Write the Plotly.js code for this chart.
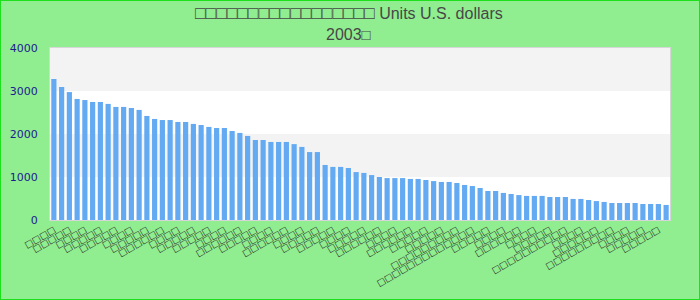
<!DOCTYPE html>
<html>
<head>
<meta charset="utf-8">
<script src="https://cdn.plot.ly/plotly-3.0.1.min.js"></script>
<style>
  html, body { margin: 0; padding: 0; background: #90ee90; }
  #wrap { width: 698px; height: 298px; border: 1px solid #1de01d; }
  #chart { width: 698px; height: 298px; }
</style>
</head>
<body>
<div id="wrap"><div id="chart"></div></div>
<script>
// Category labels: the reference shows only missing-glyph boxes, reproduced here as □
const labelLengths = [4, 3, 5, 5, 4, 6, 5, 4, 5, 6, 4, 8, 5, 4, 6, 5, 4, 6, 5, 12, 5, 16, 4,
  5, 6, 4, 5, 6, 4, 5, 6, 5, 4, 6, 5, 4, 5, 6, 4, 5, 5, 4, 6, 5, 4, 5, 6, 4, 5, 6,
  5, 4, 9, 5, 13, 4, 5, 6, 4, 5, 6, 5, 4, 8, 5, 4, 10, 5, 4, 5, 6, 4, 9, 5, 4, 6, 5, 4, 5, 3];
const categories = labelLengths.map((n, i) => '□'.repeat(n) + '\u200b'.repeat(i));

const values = [3280, 3095, 2975, 2815, 2790, 2745, 2745, 2700, 2630, 2630,
  2605, 2560, 2420, 2350, 2325, 2325, 2280, 2280, 2235, 2210,
  2165, 2140, 2140, 2070, 2025, 1955, 1860, 1860, 1815, 1815,
  1815, 1765, 1700, 1580, 1580, 1280, 1235, 1235, 1210, 1115,
  1095, 1045, 1000, 975, 975, 975, 955, 955, 930, 905,
  885, 885, 860, 815, 790, 745, 675, 675, 630, 605,
  580, 560, 560, 560, 535, 535, 535, 490, 490, 465,
  440, 420, 395, 395, 395, 395, 372, 372, 372, 350];

const yTicks = [0, 1000, 2000, 3000, 4000];
const bands = [[1000, 2000], [3000, 4000]];
const titleLine1Boxes = '□□□□□□□□□□□□□□□□□';
const titleLine1Text = ' Units U.S. dollars';
const titleLine2 = '2003';

const trace = {
  type: 'bar',
  x: categories,
  y: values,
  marker: { color: '#64aaf2' },
  hoverinfo: 'x+y'
};

const titleFont = { family: 'Liberation Sans, Arial, sans-serif', size: 16, color: '#474747' };

const layout = {
  width: 698,
  height: 298,
  paper_bgcolor: '#90ee90',
  plot_bgcolor: '#ffffff',
  margin: { l: 49, r: 29, t: 47, b: 79 },
  bargap: 0.33,
  showlegend: false,
  annotations: [
    {
      text: '<span style="font-size:17.5px">' + titleLine1Boxes + '</span>' + titleLine1Text,
      xref: 'paper', yref: 'paper', x: 0.482, y: 1, xanchor: 'center', yanchor: 'middle',
      yshift: 35, showarrow: false, font: titleFont
    },
    {
      text: titleLine2 + '<span style="font-size:15px">□</span>',
      xref: 'paper', yref: 'paper', x: 0.482, y: 1, xanchor: 'center', yanchor: 'middle',
      yshift: 14, showarrow: false, font: titleFont
    }
  ],
  xaxis: {
    type: 'category',
    tickangle: -30,
    tickfont: { family: 'DejaVu Sans, sans-serif', size: 9, color: '#222222' },
    showgrid: false,
    showline: true, linecolor: '#d6d6d6', linewidth: 1, mirror: true,
    ticks: '',
    automargin: false
  },
  yaxis: {
    range: [0, 4000],
    tickvals: yTicks,
    ticktext: yTicks.map(String),
    tickfont: { family: 'DejaVu Sans, sans-serif', size: 11, color: '#1b1b8f' },
    showgrid: false,
    zeroline: false,
    showline: true, linecolor: '#d6d6d6', linewidth: 1, mirror: true,
    ticks: '',
    ticklabelstandoff: 9,
    automargin: false
  },
  shapes: bands.map(b => ({
    type: 'rect', xref: 'paper', yref: 'y', x0: 0, x1: 1, y0: b[0], y1: b[1],
    fillcolor: '#f3f3f3', line: { width: 0 }, layer: 'below'
  }))
};

Plotly.newPlot('chart', [trace], layout, { displayModeBar: false, staticPlot: true });
</script>
</body>
</html>
